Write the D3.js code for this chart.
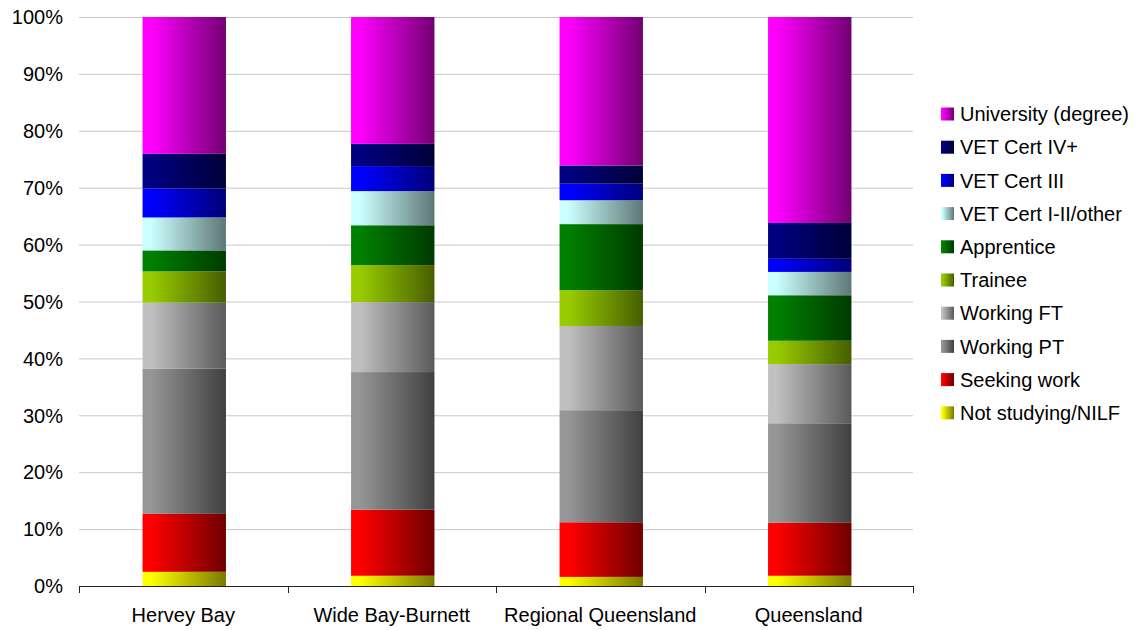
<!DOCTYPE html>
<html><head><meta charset="utf-8">
<script src="https://cdn.jsdelivr.net/npm/d3@7"></script>
<style>body{margin:0;background:#fff}svg{display:block}text{font-family:"Liberation Sans",Arial,sans-serif;fill:#000}</style>
</head><body><svg id="c" width="1147" height="630"></svg>
<script>
const categories = ["Hervey Bay","Wide Bay-Burnett","Regional Queensland","Queensland"];
const seriesNames = ["Not studying/NILF","Seeking work","Working PT","Working FT","Trainee","Apprentice","VET Cert I-II/other","VET Cert III","VET Cert IV+","University (degree)"];
const nilf       = [2.5, 1.8, 1.6, 1.8];
const seeking    = [10.2, 11.6, 9.6, 9.3];
const workingPT  = [25.6, 24.2, 19.7, 17.5];
const workingFT  = [11.6, 12.3, 14.8, 10.4];
const trainee    = [5.5, 6.5, 6.3, 4.1];
const apprentice = [3.7, 7.0, 11.6, 8.0];
const vet12      = [5.8, 6.0, 4.2, 4.1];
const vet3       = [5.1, 4.4, 2.9, 2.3];
const vet4       = [6.1, 3.9, 3.2, 6.3];
const university = [24.1, 22.3, 26.1, 36.2];
const yTicks = [0,10,20,30,40,50,60,70,80,90,100];
const seriesValues = [nilf, seeking, workingPT, workingFT, trainee, apprentice, vet12, vet3, vet4, university];
const colorsLight = ["#ffff00","#ff0000","#969696","#c0c0c0","#99cc00","#008000","#ccffff","#0000ff","#000080","#ff00ff"];
const colorsDark  = ["#7a7a00","#6e0000","#404040","#5a5a5a","#465e00","#003a00","#5e7777","#000078","#000038","#720072"];

const svg = d3.select("#c");
const pLeft = 79, pRight = 913, pTop = 17, pBottom = 586;
const x = d3.scaleBand().domain(categories).range([pLeft, pRight]).paddingInner(0.6).paddingOuter(0.3);
const xb = d3.scaleBand().domain(categories).range([pLeft, pRight]);
const y = d3.scaleLinear().domain([0,100]).range([pBottom, pTop]);

const defs = svg.append("defs");
seriesNames.forEach((s,i)=>{
  const g = defs.append("linearGradient").attr("id","g"+i).attr("x1","0").attr("x2","1").attr("y1","0").attr("y2","0");
  g.append("stop").attr("offset","0.1").attr("stop-color",colorsLight[i]);
  g.append("stop").attr("offset","1").attr("stop-color",colorsDark[i]);
});

// gridlines
svg.append("g").selectAll("line").data(yTicks.filter(d=>d>0)).join("line")
  .attr("x1",pLeft).attr("x2",pRight).attr("y1",d=>y(d)+0.5).attr("y2",d=>y(d)+0.5)
  .attr("stroke","#c8c8c8").attr("stroke-width",1);

// y labels
svg.append("g").selectAll("text").data(yTicks).join("text")
  .attr("x",63).attr("y",d=>y(d)).attr("dy","0.36em").attr("text-anchor","end")
  .attr("font-size","20px").text(d=>d+"%");

// stacked data
const rows = categories.map((c,ci)=>{const o={cat:c}; seriesNames.forEach((s,si)=>o[s]=seriesValues[si][ci]); return o;});
const stack = d3.stack().keys(seriesNames)(rows);
const totals = categories.map((c,ci)=>d3.sum(seriesValues,v=>v[ci]));
svg.append("g").selectAll("g").data(stack).join("g")
  .attr("fill",(d,i)=>"url(#g"+i+")")
  .selectAll("rect").data(d=>d).join("rect")
  .attr("x",d=>x(d.data.cat)+1).attr("width",x.bandwidth())
  .attr("y",(d,i)=>y(d[1]/totals[i]*100)).attr("height",(d,i)=>y(d[0]/totals[i]*100)-y(d[1]/totals[i]*100));

// x axis
const ax = svg.append("g");
ax.append("line").attr("x1",pLeft).attr("x2",pRight).attr("y1",pBottom+0.5).attr("y2",pBottom+0.5).attr("stroke","#222");
const tickPos = categories.map(c=>xb(c)).concat([pRight]);
ax.selectAll("line.t").data(tickPos).join("line").attr("class","t")
  .attr("x1",d=>Math.round(d)+0.5).attr("x2",d=>Math.round(d)+0.5).attr("y1",pBottom).attr("y2",pBottom+7).attr("stroke","#222");
ax.selectAll("text").data(categories).join("text")
  .attr("x",d=>xb(d)+xb.bandwidth()/2).attr("y",622).attr("text-anchor","middle")
  .attr("font-size","20px").text(d=>d);

// legend
const legOrder = seriesNames.map((s,i)=>i).reverse();
const lg = svg.append("g").selectAll("g").data(legOrder).join("g")
  .attr("transform",(d,k)=>`translate(941,${114 + k*33.2})`);
lg.append("rect").attr("x",0).attr("y",-6.5).attr("width",13).attr("height",13).attr("fill",d=>"url(#g"+d+")");
lg.append("text").attr("x",19).attr("y",0).attr("dy","0.36em").attr("font-size","20px").text(d=>seriesNames[d]);
</script></body></html>
